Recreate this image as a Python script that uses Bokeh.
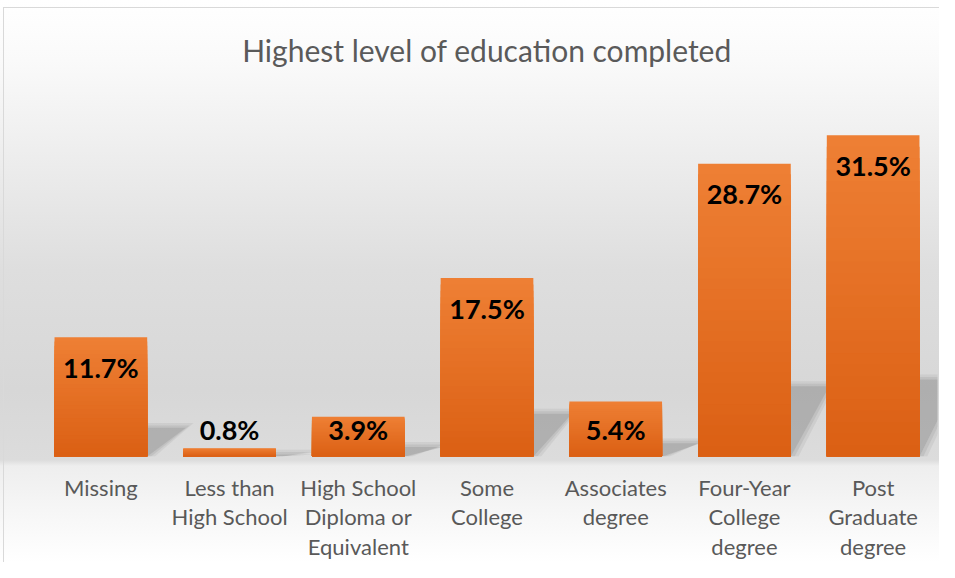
from bokeh.plotting import figure
from bokeh.models import ColumnDataSource
from bokeh.embed import file_html
from bokeh.resources import INLINE
from bokeh.core.properties import value

# ---- data ----
categories = [
    "Missing",
    "Less than\nHigh School",
    "High School\nDiploma or\nEquivalent",
    "Some\nCollege",
    "Associates\ndegree",
    "Four-Year\nCollege\ndegree",
    "Post\nGraduate\ndegree",
]
percentages = [11.7, 0.8, 3.9, 17.5, 5.4, 28.7, 31.5]
labels = [f"{v:.1f}%" for v in percentages]
title_text = "Highest level of education completed"

# ---- style ----
FONT = "Lato"
BAR_TOP = (238, 127, 52)
BAR_BOTTOM = (219, 96, 20)
BAR_W = 0.72

p = figure(
    x_range=categories, y_range=(0, 35),
    width=939, height=562,
    output_backend="svg", toolbar_location=None,
    min_border_left=36, min_border_right=2,
    min_border_top=99, min_border_bottom=99,
)
p.background_fill_color = None
p.border_fill_color = None
p.outline_line_color = None
p.styles = {
    "background": (
        "linear-gradient(#d9d9d9,#d9d9d9) 3px 7px / 1px 100% no-repeat, "
        "linear-gradient(#d9d9d9,#d9d9d9) 3px 7px / 100% 1px no-repeat, "
        "linear-gradient(to bottom, #ffffff 0px, #fafafa 60px, #eeeeee 150px, "
        "#dedede 270px, #d7d7d7 390px, #dcdcdc 460px, #eeeeee 466px, "
        "#f6f6f6 510px, #ffffff 562px)"
    ),
}

# perspective shadows (soft, several layers)
for grow, alpha in [(0.06, 0.10), (0.03, 0.14), (0.0, 0.20)]:
    xs, ys = [], []
    for c, v in zip(categories, percentages):
        h = 0.24 * v + grow * 8
        xs.append([(c, -BAR_W / 2), (c, BAR_W / 2 + grow),
                   (c, BAR_W / 2 + 0.30 + grow), (c, -BAR_W / 2 + 0.30)])
        ys.append([0, 0, h, h])
    p.patches(xs, ys, fill_color="#6e6e6e", fill_alpha=alpha, line_color=None)

# gradient bars built from overlapping layers
N = 28
for k in range(N):
    t = k / (N - 1)
    col = "#%02x%02x%02x" % tuple(int(round(a + (b - a) * t)) for a, b in zip(BAR_TOP, BAR_BOTTOM))
    tops = [v * (1 - k / N) for v in percentages]
    p.vbar(x=categories, top=tops, bottom=0, width=BAR_W, fill_color=col, line_color=None)

# data labels
label_y = [max(v - 2.95, 2.66) for v in percentages]
src = ColumnDataSource(dict(cat=categories, y=label_y, label=labels))
p.text(x="cat", y="y", text="label", source=src,
       text_align="center", text_baseline="middle",
       text_font=value(FONT), text_font_style="bold",
       text_font_size="27px", text_color="black")

# title
p.title.text = title_text
p.title.align = "center"
p.title.vertical_align = "top"
p.title.text_font = FONT
p.title.text_font_style = "normal"
p.title.text_font_size = "30px"
p.title.text_color = "#5a5a5a"
p.title.standoff = 60

# axes
p.yaxis.visible = False
p.xgrid.grid_line_color = None
p.ygrid.grid_line_color = None
p.xaxis.axis_line_color = None
p.xaxis.major_tick_line_color = None
p.xaxis.minor_tick_line_color = None
p.xaxis.major_tick_out = 0
p.xaxis.major_label_standoff = 17
p.xaxis.major_label_text_font = FONT
p.xaxis.major_label_text_font_size = "22px"
p.xaxis.major_label_text_line_height = 1.1
p.xaxis.major_label_text_color = "#595959"

open("out.html", "w").write(file_html(p, INLINE))
